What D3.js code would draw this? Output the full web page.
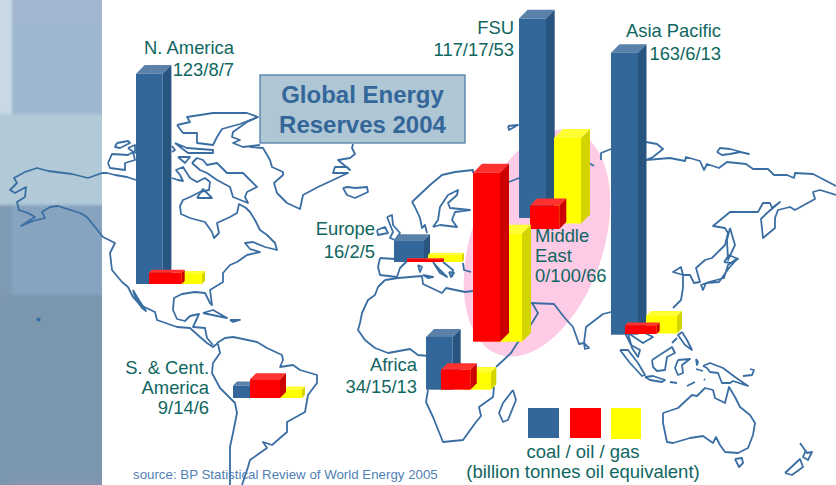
<!DOCTYPE html>
<html><head><meta charset="utf-8">
<script src="https://cdn.jsdelivr.net/npm/d3@7"></script>
<style>html,body{margin:0;padding:0;background:#fff;overflow:hidden}svg{display:block}text{font-family:"Liberation Sans",Arial,sans-serif}</style>
</head><body><svg id="c" width="836" height="485"></svg>
<script>
// ---------- data (billion tonnes oil equivalent) ----------
const regions = ["N. America","S. & Cent. America","Europe","FSU","Middle East","Africa","Asia Pacific"];
const coal = [123, 9, 16, 117, 0, 34, 163];
const oil  = [8, 14, 2, 17, 100, 15, 6];
const gas  = [7, 6, 5, 53, 66, 13, 13];
const seriesNames = ["coal","oil","gas"];
const seriesValues = [coal, oil, gas];
const titleLines = ["Global Energy","Reserves 2004"];
const legendLines = ["coal / oil / gas","(billion tonnes oil equivalent)"];
const sourceText = "source: BP Statistical Review of World Energy 2005";
const regionLabels = [
 [["N. America",234,54],["123/8/7",234,76]],
 [["S. & Cent.",209,374],["America",209,394],["9/14/6",209,414]],
 [["Europe",375,235],["16/2/5",375,258]],
 [["FSU",514,34],["117/17/53",514,56]],
 [["Middle",535,242,"start"],["East",535,262,"start"],["0/100/66",535,282,"start"]],
 [["Africa",417,371],["34/15/13",417,393]],
 [["Asia Pacific",721,37],["163/6/13",721,60]]
];
// bar placement per region: series index, left, width, depth, baseline (draw order preserved)
const barLayout = [
 [[0,136,26.7,8.7,284],[2,178,24,3,284],[1,149,32.7,3,284]],
 [[0,233,24,4,398],[2,275,27,3,398],[1,250,30,6,398]],
 [[0,394,30,6,262],[2,428,34,2,262],[1,407,36,1,262]],
 [[0,519,27,8.7,218],[2,554,27,9,223.5],[1,530,29.3,7,229]],
 [[2,495,27,9,341.7],[1,473,27,9,341.7]],
 [[0,426,26.7,8,389.7],[2,463,28,5.3,389.7],[1,441,29.3,6.5,389.7]],
 [[0,611,27,8.5,334.7],[2,646,31,5,333.5],[1,625,31.7,3,334]]
];
const legendBoxes = [[0,528,408,31,30],[1,570,408,31,30],[2,611,408,30,31]];
const palette = {
 coal:{front:"#336699",top:"#5a81a9",side:"#285480"},
 oil:{front:"#ff0000",top:"#ff3131",side:"#cc0000"},
 gas:{front:"#ffff00",top:"#ffff33",side:"#d4d400"}
};
// left decorative panel blocks
const panelBlocks = [
 [-6,-6,18,120,"#c8d9e4"],[12,-6,96,31,"#a3b6d0"],[12,25,96,89,"#9cb7cf"],
 [-6,114,114,91,"#b2c9d8"],[-6,205,18,90,"#7f9ab3"],[12,205,96,90,"#86a3c0"],
 [-6,295,114,183,"#7a97ad"],[12,478,96,14,"#8296b2"],[-6,478,18,14,"#7a97ad"]
];
// map outlines (traced screen polylines)
const mapLines = [
 // Alaska & W. North America
 [[136,180],[127,177],[115,175],[107,173],[102,173],[88,178],[72,174],[48,171],[37,168],[25,172],[14,178],[17,183],[10,190],[15,193],[26,187],[25,197],[17,202],[19,210],[28,213],[35,217],[21,226],[33,221],[45,218],[42,212],[50,207],[58,206],[80,213],[87,217],[95,227],[103,237],[115,243],[110,253],[112,270],[122,282],[128,287],[133,297],[140,305],[155,312],[157,320],[177,327],[190,328],[200,337],[207,343],[213,347],[218,343]],
 // Baja
 [[133,290],[137,297],[146,311],[142,308],[135,297],[133,290]],
 // Gulf & E. North America
 [[213,345],[207,338],[205,328],[193,327],[199,314],[190,316],[185,321],[177,319],[173,310],[174,298],[182,294],[195,292],[205,293],[210,303],[212,305],[210,290],[223,282],[223,273],[230,265],[237,262],[247,255],[260,252],[250,249],[245,243],[253,242],[265,247],[277,250],[275,243],[267,235],[260,230],[255,220],[250,212],[246,208],[239,204],[237,213],[230,217],[217,223],[219,233],[214,238],[212,232],[205,222],[190,218],[181,214],[180,206],[183,200],[190,197],[200,192],[209,190],[210,182],[205,178],[197,182],[190,178],[183,167],[176,170],[180,175],[183,181],[178,180],[172,178]],
 // Arctic islands
 [[192,163],[197,158],[203,160],[207,165],[217,163],[227,173],[243,173],[257,187],[247,192],[245,197],[248,203],[233,197],[230,187],[217,180],[207,173],[200,170],[192,163]],
 [[197,198],[203,189],[212,198],[197,198]],
 [[175,143],[187,148],[213,150],[213,153],[188,153],[175,143]],
 [[177,125],[190,122],[187,117],[213,113],[247,113],[258,117],[247,122],[233,132],[232,137],[240,140],[233,143],[243,147],[260,145]],
 [[177,125],[183,133],[197,133],[197,143],[213,145],[217,137],[222,129],[240,124],[258,117]],
 [[178,157],[190,157],[185,163],[178,157]],
 [[117,143],[128,141],[130,143],[120,148],[115,147],[117,143]],
 [[108,163],[112,154],[128,155],[133,152],[135,160],[125,163],[125,170],[110,168],[108,163]],
 [[128,148],[135,145],[135,153],[128,148]],
 [[172,146],[175,150],[172,152]],
 // Greenland
 [[250,147],[263,148],[270,160],[272,167],[283,172],[283,175],[274,183],[277,193],[287,203],[300,209],[303,195],[318,187],[333,180],[348,173],[333,173],[335,167],[347,167],[350,170],[338,160],[350,158],[355,154],[352,148],[353,144]],
 // Iceland
 [[343,188],[348,187],[355,188],[367,187],[368,192],[355,198],[347,195],[343,188]],
 // Caribbean
 [[203,313],[213,310],[227,318],[217,316],[203,313]],
 [[230,320],[240,320],[233,322],[230,320]],
 // South America
 [[218,344],[220,353],[213,363],[212,373],[220,388],[235,403],[237,413],[233,433],[230,447],[230,463],[230,485]],
 [[217,343],[225,338],[233,337],[238,338],[257,342],[267,348],[282,355],[283,360],[280,367],[293,365],[300,370],[317,375],[317,383],[308,395],[305,412],[287,422],[287,432],[272,445],[263,442],[267,448],[250,460],[248,467],[242,485]],
 // Africa
 [[385,280],[398,278],[422,276],[423,284],[442,293],[446,288],[465,292],[473,291]],
 [[385,280],[378,287],[375,295],[368,300],[362,313],[360,323],[358,330],[365,340],[375,348],[388,353],[410,349],[418,355],[428,356]],
 [[428,390],[426,402],[433,417],[443,442],[463,440],[476,422],[481,416],[479,407],[493,397],[494,387]],
 [[496,367],[511,353],[516,345],[532,323]],
 [[513,390],[516,400],[508,420],[503,422],[499,413],[503,403],[513,390]],
 // Arabia, India
 [[532,303],[538,313],[532,323]],
 [[531,303],[554,304],[564,317],[573,327],[579,344],[584,343],[586,327],[603,314],[611,312]],
 [[584,343],[589,348],[585,349],[584,343]],
 // Europe
 [[412,202],[430,185],[442,175],[455,172],[473,170],[473,173]],
 [[412,202],[415,207],[420,218],[422,228],[425,225],[427,233]],
 [[433,227],[438,220],[440,207],[448,195],[458,190],[457,195],[448,203],[450,208],[470,210],[455,212],[452,220],[457,227],[440,225],[433,227]],
 [[387,217],[392,215],[393,225],[400,233],[395,240],[390,238],[393,232],[387,217]],
 [[377,230],[385,227],[388,233],[378,235],[377,230]],
 [[380,258],[395,259],[408,260],[400,268],[397,277],[380,275],[378,267],[380,258]],
 [[433,262],[440,270],[447,277],[440,273],[433,262]],
 [[418,265],[422,267],[420,272],[418,265]],
 [[423,275],[433,277],[428,278],[423,275]],
 [[443,262],[453,270],[452,277]],
 [[449,272],[454,273],[451,277],[449,272]],
 [[463,263],[464,270],[471,272]],
 [[508,126],[518,125],[509,130],[508,126]],
 [[509,182],[519,178]],
 [[601,160],[601,153],[611,149]],
 [[589,163],[594,166]],
 // Russia
 [[646,142],[657,144],[663,149],[653,157],[646,160],[670,158],[685,161],[686,157],[700,161],[704,170],[707,164],[719,168],[727,162],[746,164],[753,169],[768,169],[774,175],[787,175],[794,178],[795,173],[813,174],[836,186]],
 [[836,195],[820,190],[813,192],[815,199],[795,210],[790,207],[778,210],[775,218],[775,228],[763,238],[761,219],[767,213],[780,202],[772,208],[770,203],[763,203],[758,212],[730,212],[713,226],[725,228],[728,233],[725,245],[712,258],[705,260],[696,268],[700,282],[694,283],[690,275],[683,275],[673,272],[681,267],[683,275],[683,288],[681,300],[673,308]],
 [[730,228],[735,245],[728,260],[727,240],[730,228]],
 [[717,152],[720,148],[730,149],[749,154],[740,152],[730,154],[722,155],[717,152]],
 // Japan
 [[738,258],[728,265],[724,278],[709,282],[701,285],[703,290],[706,283],[719,282],[729,268],[738,258]],
 [[724,262],[729,255],[738,259],[731,263],[724,262]],
 // SE Asia
 [[625,333],[631,345],[640,350],[638,357],[632,348],[628,333]],
 [[628,333],[643,343],[653,337],[645,333]],
 [[620,350],[628,350],[638,363],[645,375],[642,376],[630,363],[620,350]],
 [[645,377],[653,376],[665,380],[662,382],[650,380],[645,377]],
 [[652,360],[672,347],[675,353],[667,357],[665,370],[657,371],[653,367],[652,360]],
 [[678,360],[690,359],[682,365],[683,373],[678,375],[675,368],[678,360]],
 [[682,332],[687,340],[692,350],[685,345],[678,335],[682,332]],
 [[672,343],[677,338]],
 [[696,359],[698,362],[697,365],[696,359]],
 [[696,369],[703,371]],
 [[670,382],[677,383]],
 [[687,386],[695,382]],
 [[704,379],[705,380]],
 // New Guinea etc.
 [[703,366],[710,363],[723,368],[735,377],[748,386],[733,381],[730,383],[722,383],[718,373],[710,372],[707,368],[703,366]],
 [[743,376],[752,375],[754,370],[750,369]],
 // Australia
 [[663,413],[678,408],[692,395],[697,396],[705,388],[713,390],[715,398],[725,403],[729,387],[735,397],[740,407],[750,415],[755,423],[753,435],[748,448],[738,453],[725,452],[720,445],[716,437],[713,443],[703,436],[690,438],[673,443],[667,442],[663,423],[663,413]],
 [[735,459],[742,458],[743,463],[739,467],[735,459]],
 [[800,443],[807,453],[812,452],[808,460],[803,457],[806,450]],
 [[785,473],[800,459],[803,467],[792,475],[785,473]]
];

// ---------- drawing ----------
const svg = d3.select("#c");
const defs = svg.append("defs");
defs.append("filter").attr("id","soft").attr("x","-5%").attr("y","-5%").attr("width","110%").attr("height","110%")
 .append("feGaussianBlur").attr("stdDeviation",1.6);
defs.append("clipPath").attr("id","panelClip").append("rect").attr("width",102).attr("height",485);

svg.append("rect").attr("width",836).attr("height",485).attr("fill","#fff");

svg.append("g").attr("clip-path","url(#panelClip)").append("g").attr("filter","url(#soft)")
 .selectAll("rect").data(panelBlocks).join("rect")
 .attr("x",d=>d[0]).attr("y",d=>d[1]).attr("width",d=>d[2]).attr("height",d=>d[3]).attr("fill",d=>d[4]);

svg.append("ellipse").attr("cx",537).attr("cy",243).attr("rx",66).attr("ry",118)
 .attr("transform","rotate(19 537 243)").attr("fill","#fdcbe6");

const lineGen = d3.line().x(d=>d[0]).y(d=>d[1]);
svg.append("g").selectAll("path").data(mapLines).join("path")
 .attr("d",lineGen).attr("fill","none").attr("stroke","#3a6ea3").attr("stroke-width",1.8).attr("stroke-linejoin","round");

svg.append("circle").attr("cx",38.5).attr("cy",319.5).attr("r",2).attr("fill","#336ca6");

// height scale: value -> pixels
const h = d3.scaleLinear().domain([0,7,15,66,163]).range([0,10,20,108,282]);

const barsG = svg.append("g");
barLayout.forEach((items,ri)=>{
 items.forEach(([si,x,w,dp,base])=>{
  const name = seriesNames[si], v = seriesValues[si][ri], c = palette[name];
  const top = base - h(v);
  const g = barsG.append("g").attr("class",regions[ri]+" "+name);
  g.append("polygon").attr("points",[[x,top],[x+dp,top-dp],[x+w+dp,top-dp],[x+w,top]].join(" ")).attr("fill",c.top);
  g.append("polygon").attr("points",[[x+w,top],[x+w+dp,top-dp],[x+w+dp,base-dp],[x+w,base]].join(" ")).attr("fill",c.side);
  g.append("rect").attr("x",x).attr("y",top).attr("width",w).attr("height",h(v)).attr("fill",c.front);
 });
});

// title box
svg.append("rect").attr("x",260).attr("y",75).attr("width",205).attr("height",68)
 .attr("fill","#afc6d4").attr("stroke","#4f7da9").attr("stroke-width",1.3);
svg.append("g").selectAll("text").data(titleLines).join("text")
 .attr("x",362.5).attr("y",(d,i)=>[103,133][i]).attr("text-anchor","middle")
 .attr("font-size",24).attr("font-weight","bold").attr("fill","#336699").text(d=>d);

// region labels
svg.append("g").selectAll("text").data(regionLabels.flat()).join("text")
 .attr("x",d=>d[1]).attr("y",d=>d[2]).attr("text-anchor",d=>d[3]||"end")
 .attr("font-size",18.4).attr("fill","#0f665f").text(d=>d[0]);

// legend
svg.append("g").selectAll("rect").data(legendBoxes).join("rect")
 .attr("x",d=>d[1]).attr("y",d=>d[2]).attr("width",d=>d[3]).attr("height",d=>d[4])
 .attr("fill",d=>palette[seriesNames[d[0]]].front);
svg.append("g").selectAll("text").data(legendLines).join("text")
 .attr("x",583).attr("y",(d,i)=>[458,478][i]).attr("text-anchor","middle")
 .attr("font-size",18.5).attr("fill","#0f665f").text(d=>d);

svg.append("text").attr("x",133).attr("y",479).attr("font-size",13.3).attr("fill","#4f7fb5").text(sourceText);
</script></body></html>
